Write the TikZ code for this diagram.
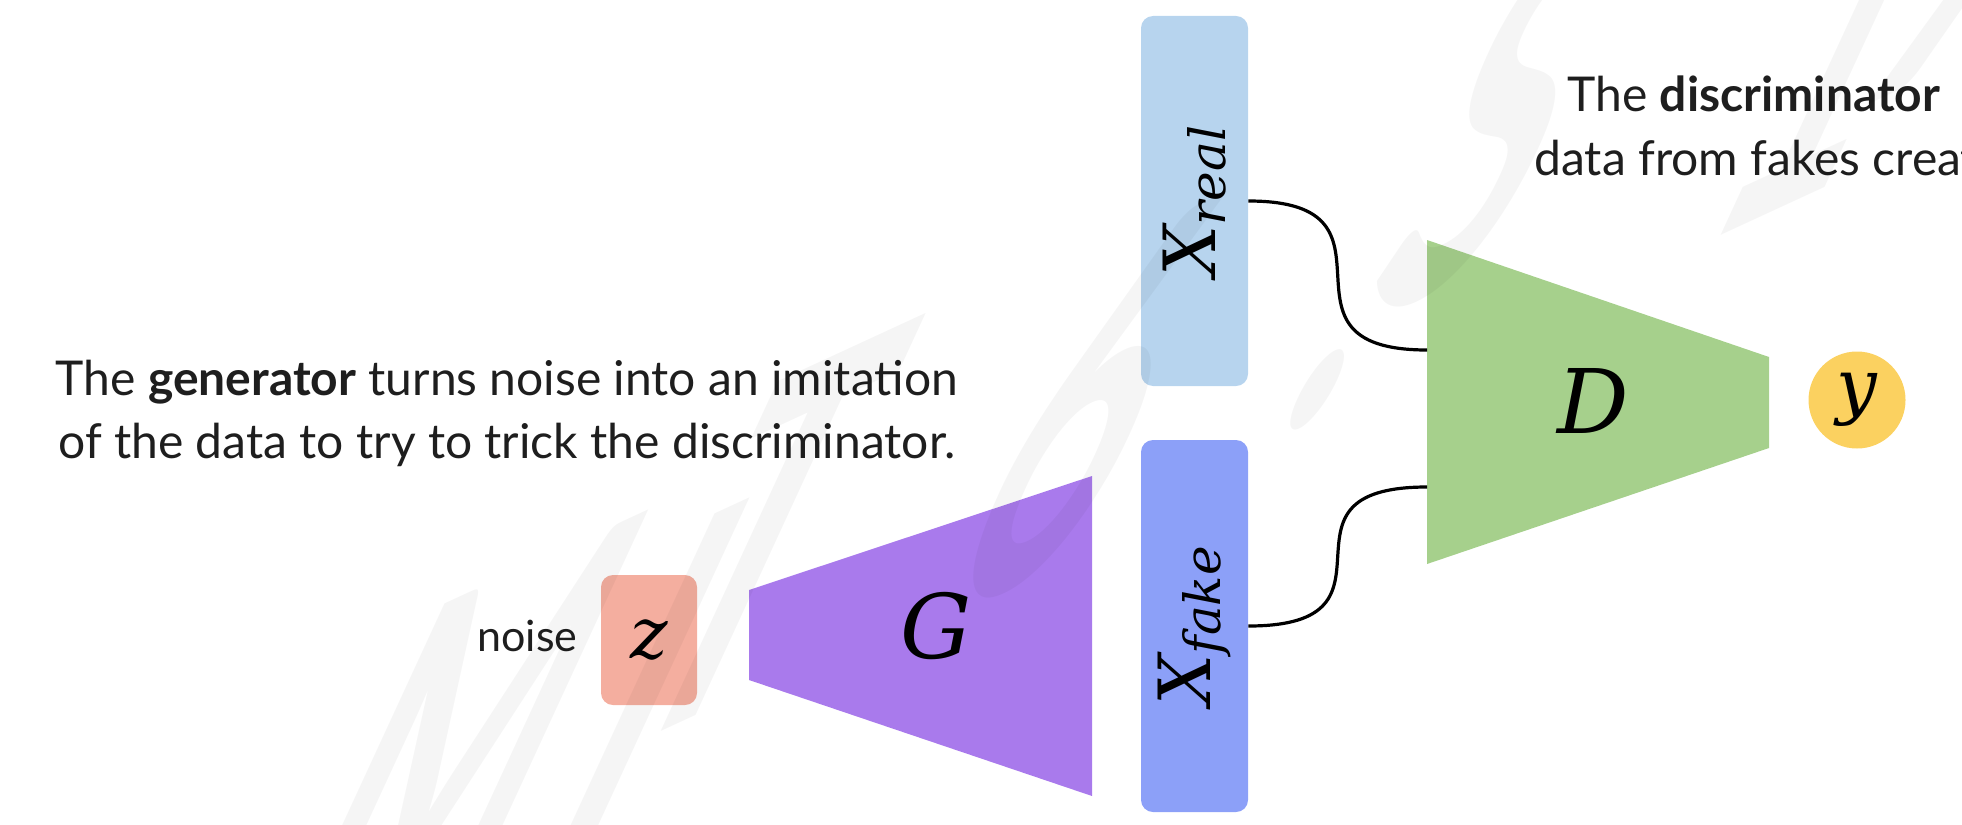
\documentclass[tikz,border=0pt]{standalone}
\usepackage{fontspec}
\setmainfont{Lato}
\newfontfamily\lblfont{DejaVu Serif}
\usetikzlibrary{calc}
\definecolor{realblue}{RGB}{183,212,238}
\definecolor{fakeblue}{RGB}{140,160,248}
\definecolor{noisered}{RGB}{244,174,159}
\definecolor{genpurple}{RGB}{169,122,236}
\definecolor{discgreen}{RGB}{166,208,140}
\definecolor{outyellow}{RGB}{251,209,96}
\definecolor{inkgray}{RGB}{30,30,30}
\newcommand{\lbl}[2]{{\fontsize{#1}{#1}\lblfont\itshape #2}}
\newcommand{\xsub}[1]{{\fontsize{36}{36}\lblfont\itshape X}\raisebox{-5pt}{\fontsize{25}{25}\lblfont\itshape #1}}
\tikzset{
  databox/.style={rectangle, rounded corners=6pt, minimum width=53.5pt, inner sep=0pt},
  caption/.style={inner sep=0pt, anchor=base, text=inkgray, font=\fontsize{24}{28}\selectfont},
  mathlbl/.style={inner sep=0pt, text=black},
  wire/.style={line width=1.6pt, black},
  wmglyph/.style={inner sep=0pt, anchor=base west, text=black, text opacity=0.04, transform shape,
      cm={1.3,0.6,1.2,2.6,(0,0)}, font=\fontsize{100}{100}\selectfont\bfseries}
}
\begin{document}
\begin{tikzpicture}[x=0.5pt,y=-0.5pt]
\useasboundingbox (0,0) rectangle (1962,824);
\clip (0,0) rectangle (1962,824);
% data boxes
\node[databox, fill=realblue, minimum height=185pt] (xr) at (1194.5,201) {};
\node[databox, fill=fakeblue, minimum height=186pt] (xf) at (1194.5,626) {};
\node[mathlbl, rotate=90] (xrlbl) at (xr.center) {\xsub{real}};
\node[mathlbl, rotate=90] (xflbl) at (xf.center) {\xsub{fake}};
% noise
\node[rectangle, rounded corners=6pt, fill=noisered, minimum width=48pt, minimum height=65pt, inner sep=0pt] (z) at (649,640) {};
\node[mathlbl] (zlbl) at (z.center) {\lbl{35.6}{z}};
\node[caption, anchor=base east, font=\fontsize{21.5}{24}\selectfont] (noise) at (578,651) {noise};
% generator
\fill[genpurple] (749,590) -- (1092,476) -- (1092,796) -- (749,680) -- cycle;
\node[mathlbl] (glbl) at (936,626) {\lbl{44.6}{G}};
% discriminator
\fill[discgreen] (1427,240) -- (1769,357) -- (1769,448) -- (1427,564) -- cycle;
\coordinate (din1) at (1427,350);
\coordinate (din2) at (1427,487);
\node[mathlbl] (dlbl) at (1593,401) {\lbl{44.6}{D}};
% output
\node[circle, fill=outyellow, minimum size=48.5pt, inner sep=0pt] (y) at (1857,400) {};
\node[mathlbl] (ylbl) at (y.center) {\lbl{36}{y}};
% connectors
\draw[wire] (xr.east) .. controls +(170,0) and +(-170,0) .. (din1);
\draw[wire] (xf.east) .. controls +(170,0) and +(-170,0) .. (din2);
% captions
\node[caption] (gen1) at (507,395) {The \textbf{generator} turns noise into an imitation};
\node[caption] (gen2) at (507,458) {of the data to try to trick the discriminator.};
\node[caption, anchor=base west] (dis1) at (1567,112) {The \textbf{discriminator}};
\node[caption, anchor=base west] (dis2) at (1534,175) {data from fakes creat};
% watermark, one glyph at a time
\node[wmglyph] (wm1) at (250,990) {M};
\node[wmglyph] (wm2) at (520,900) {I};
\node[wmglyph] (wm3) at (600,760) {T};
\node[wmglyph] (wm4) at (930,625) {6};
\node[wmglyph] (wm5) at (1270,440) {.};
\node[wmglyph] (wm6) at (1350,330) {S};
\node[wmglyph] (wm7) at (1690,250) {1};
\node[wmglyph] (wm8) at (1840,118) {9};
\end{tikzpicture}
\end{document}
